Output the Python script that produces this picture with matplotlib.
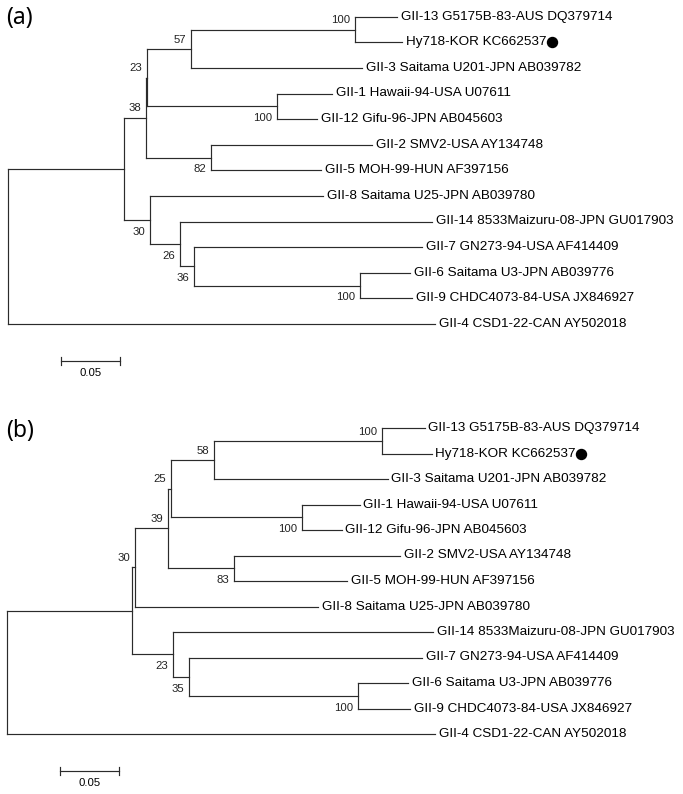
import matplotlib
matplotlib.use("Agg")
import matplotlib.pyplot as plt
import numpy as np

# tip order (top to bottom), same in both trees
tips = ["GII-13 G5175B-83-AUS DQ379714", "Hy718-KOR KC662537", "GII-3 Saitama U201-JPN AB039782",
        "GII-1 Hawaii-94-USA U07611", "GII-12 Gifu-96-JPN AB045603", "GII-2 SMV2-USA AY134748",
        "GII-5 MOH-99-HUN AF397156", "GII-8 Saitama U25-JPN AB039780", "GII-14 8533Maizuru-08-JPN GU017903",
        "GII-7 GN273-94-USA AF414409", "GII-6 Saitama U3-JPN AB039776", "GII-9 CHDC4073-84-USA JX846927",
        "GII-4 CSD1-22-CAN AY502018"]
marked_tip = "Hy718-KOR KC662537"

# tree (a)
tip_parent_a = ["n100a", "n100a", "n57", "n100b", "n100b", "n82", "n82", "C", "n26", "n36", "n100c", "n100c", "root"]
tip_len_a = [0.0353, 0.0395, 0.1437, 0.0462, 0.0336, 0.1353, 0.0924, 0.1454, 0.2118, 0.1916, 0.0420, 0.0437, 0.3588]
node_a = ["A", "B", "n23", "n57", "n100a", "n100b", "n82", "C", "n26", "n36", "n100c"]
node_parent_a = ["root", "A", "B", "n23", "n57", "n23", "B", "A", "C", "n26", "n36"]
node_len_a = [0.0975, 0.0185, 0.0008, 0.0370, 0.1378, 0.1092, 0.0546, 0.0218, 0.0252, 0.0118, 0.1395]
node_boot_a = [None, 38, 23, 57, 100, 100, 82, 30, 26, 36, 100]

# tree (b)
tip_parent_b = ["n100a", "n100a", "n58", "n100b", "n100b", "n83", "n83", "n30", "n23", "n35", "n100c", "n100c", "root"]
tip_len_b = [0.0361, 0.0420, 0.1462, 0.0487, 0.0336, 0.1395, 0.0950, 0.1538, 0.2185, 0.1958, 0.0420, 0.0437, 0.3597]
node_b = ["X", "n30", "n39", "n25", "n58", "n100a", "n100b", "n83", "n23", "n35", "n100c"]
node_parent_b = ["root", "X", "n30", "n39", "n25", "n58", "n25", "n39", "X", "n23", "n35"]
node_len_b = [0.1050, 0.0025, 0.0277, 0.0025, 0.0361, 0.1412, 0.1101, 0.0555, 0.0345, 0.0134, 0.1420]
node_boot_b = [None, 30, 39, 25, 58, 100, 100, 83, 23, 35, 100]

scale_len = 0.05

LINE = "#2b2b2b"
FONT = "Liberation Sans"


def layout(tip_parent, tip_len, nodes, node_parent, node_len):
    parent = dict(zip(tips, tip_parent))
    parent.update(zip(nodes, node_parent))
    length = dict(zip(tips, tip_len))
    length.update(zip(nodes, node_len))
    children = {}
    for name, p in parent.items():
        children.setdefault(p, []).append(name)

    x = {"root": 0.0}

    def set_x(n):
        for c in children.get(n, []):
            x[c] = x[n] + length[c]
            set_x(c)

    set_x("root")
    y = {t: float(i) for i, t in enumerate(tips)}

    def set_y(n):
        if n not in y:
            y[n] = np.mean([set_y(c) for c in children[n]])
        return y[n]

    set_y("root")
    return parent, children, x, y


def draw_tree(fig, ax, tip_parent, tip_len, nodes, node_parent, node_len, node_boot):
    parent, children, x, y = layout(tip_parent, tip_len, nodes, node_parent, node_len)
    kw = dict(color=LINE, lw=0.85, solid_capstyle="projecting")
    for n, ch in children.items():
        ys = [y[c] for c in ch]
        ax.plot([x[n], x[n]], [min(ys), max(ys)], **kw)
    for n, p in parent.items():
        ax.plot([x[p], x[n]], [y[n], y[n]], **kw)

    for t in tips:
        txt = ax.annotate(t, (x[t], y[t]), xytext=(2.6, 0), textcoords="offset points",
                          ha="left", va="center", fontsize=9.7, family=FONT)
        if t == marked_tip:
            # filled circle just after the label text
            bb = txt.get_window_extent(renderer=fig.canvas.get_renderer())
            mx = ax.transData.inverted().transform((bb.x1 + 5.5, 0))[0]
            ax.plot([mx], [y[t]], "o", color="black", ms=7.2)

    for n, b in zip(nodes, node_boot):
        if b is None:
            continue
        above = y[n] < y[parent[n]]
        ax.annotate(str(b), (x[n], y[n]), xytext=(-3.2, 6.6 if above else -8.6),
                    textcoords="offset points", ha="right", va="center",
                    fontsize=8.2, family=FONT, color="#222222")

    # scale bar
    sx = 0.0445
    sy = len(tips) + 0.45
    ax.plot([sx, sx + scale_len], [sy, sy], **kw)
    for ex in (sx, sx + scale_len):
        ax.plot([ex, ex], [sy - 0.16, sy + 0.16], **kw)
    ax.annotate("{:.2f}".format(scale_len), (sx + scale_len / 2, sy), xytext=(0, -8.5),
                textcoords="offset points", ha="center", va="center", fontsize=8.2, family=FONT)


W, H = 683, 794
PX_PER_UNIT = 1190
fig = plt.figure(figsize=(W / 100, H / 100), dpi=100)

# (top_px, bottom_px, root_x_px, first_tip_y_px, tip_spacing_px)
panels = [(0, 397, 8, 16.7, 25.6), (397, 794, 7, 428.0, 25.5)]
trees = [(tip_parent_a, tip_len_a, node_a, node_parent_a, node_len_a, node_boot_a),
         (tip_parent_b, tip_len_b, node_b, node_parent_b, node_len_b, node_boot_b)]
letters = ["(a)", "(b)"]
letter_y = [18, 431]

for (top, bot, x0, y0, dy), tree, let, ly in zip(panels, trees, letters, letter_y):
    ax = fig.add_axes([0, 1 - bot / H, 1, (bot - top) / H])
    ax.set_xlim(-x0 / PX_PER_UNIT, (W - x0) / PX_PER_UNIT)
    ax.set_ylim((bot - y0) / dy, (top - y0) / dy)
    ax.axis("off")
    draw_tree(fig, ax, *tree)
    fig.text(6 / W, 1 - ly / H, let, ha="left", va="center", fontsize=16.5, family="Noto Sans")

fig.savefig("out.png", dpi=100)
